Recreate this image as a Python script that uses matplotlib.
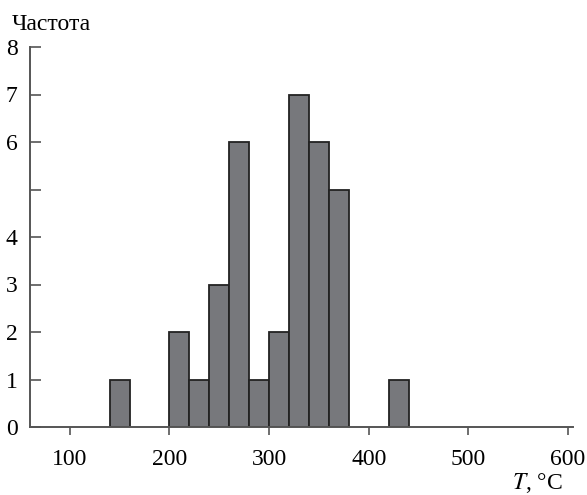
import matplotlib
matplotlib.use('Agg')

import matplotlib.pyplot as plt

# temperature bins (left edge, °C) and how many samples fell in each
bin_start = [140, 200, 220, 240, 260, 280, 300, 320, 340, 360, 420]
counts = [1, 2, 1, 3, 6, 1, 2, 7, 6, 5, 1]
bin_width = 20

x_ticks = [100, 200, 300, 400, 500, 600]
y_ticks = [0, 1, 2, 3, 4, 5, 6, 7, 8]
y_labels = ['0', '1', '2', '3', '4', '', '6', '7', '8']

plt.rcParams['font.family'] = ['Liberation Serif', 'DejaVu Serif']
plt.rcParams['mathtext.fontset'] = 'stix'

fig = plt.figure(figsize=(5.87, 4.95), dpi=100)
ax = fig.add_axes([30 / 587, 68 / 495, 543 / 587, 380 / 495])

ax.bar(bin_start, counts, width=bin_width, align='edge',
       color='#77787c', edgecolor='#222222', linewidth=1.3, zorder=3)

ax.set_xlim(60, 605)
ax.set_ylim(0, 8)
ax.set_xticks(x_ticks)
ax.set_xticklabels([str(v) for v in x_ticks])
ax.set_yticks(y_ticks)
ax.set_yticklabels(y_labels)

for side in ['top', 'right']:
    ax.spines[side].set_visible(False)
for side in ['left', 'bottom']:
    ax.spines[side].set_color('#555555')
    ax.spines[side].set_linewidth(1.4)
ax.spines['bottom'].set_zorder(4)

ax.tick_params(axis='x', direction='out', length=6, width=1.2,
               color='#555555', labelsize=17, pad=10)
ax.tick_params(axis='y', direction='in', length=8, width=1.2,
               color='#555555', labelsize=17, pad=9)

fig.text(12 / 587, 1 - 30 / 495, 'Частота', fontsize=17, ha='left',
         va='baseline')
fig.text(563 / 587, 1 - 489 / 495, '$T$, °C', fontsize=17, ha='right',
         va='baseline')

plt.savefig('out.png', dpi=100)
